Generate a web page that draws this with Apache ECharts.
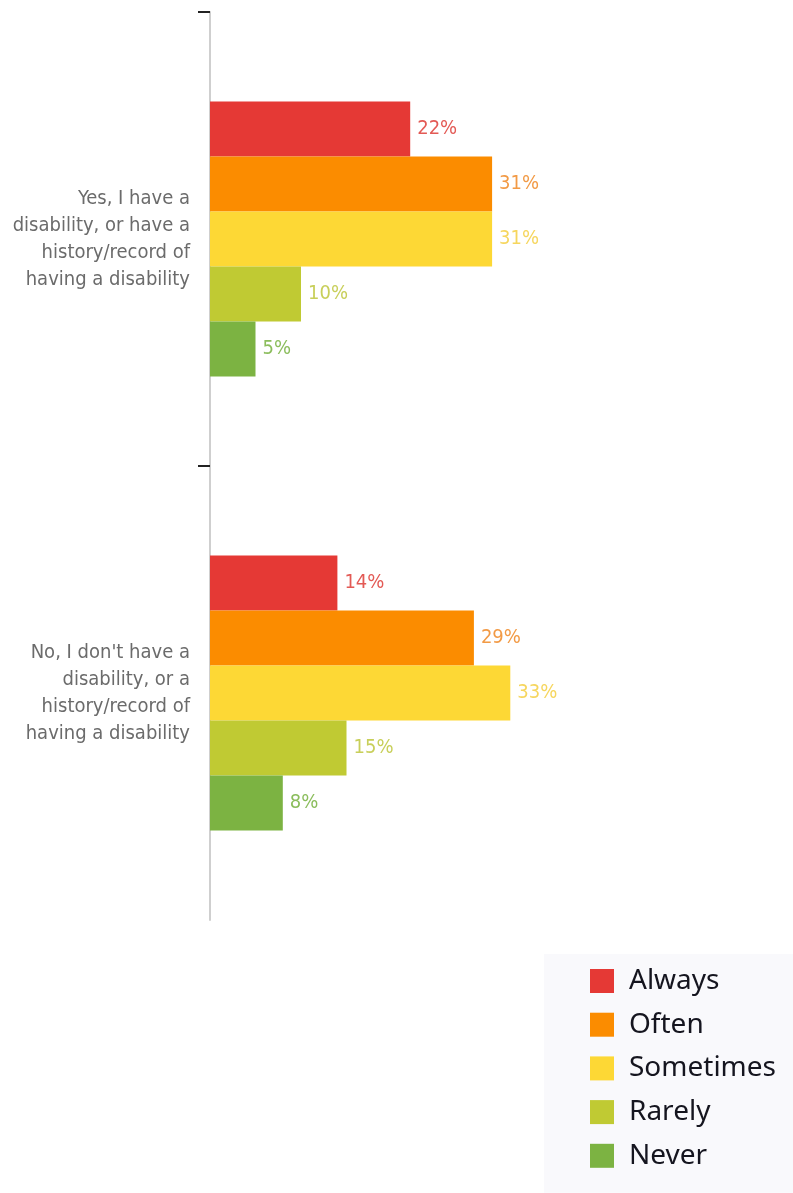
<!DOCTYPE html>
<html>
<head>
<meta charset="utf-8">
<script src="https://cdn.jsdelivr.net/npm/echarts@6/dist/echarts.min.js"></script>
<style>
html,body{margin:0;padding:0;background:#fff;}
#chart{width:793px;height:1193px;}
</style>
</head>
<body>
<div id="chart"></div>
<script>
const categories = [
  "Yes, I have a\ndisability, or have a\nhistory/record of\nhaving a disability",
  "No, I don't have a\ndisability, or a\nhistory/record of\nhaving a disability"
];
const seriesNames = ["Always", "Often", "Sometimes", "Rarely", "Never"];
const always = [22, 14];
const often = [31, 29];
const sometimes = [31, 33];
const rarely = [10, 15];
const never = [5, 8];
const tickIndices = [0, 1];

const barColors = ["#e53935", "#fb8c00", "#fdd835", "#c0ca33", "#7cb342"];
const labelColors = ["#e35a55", "#f29a45", "#f6d65e", "#c8cf5a", "#8bbd5c"];
const values = [always, often, sometimes, rarely, never];

const narrow = "'Liberation Sans Narrow', 'DejaVu Sans Condensed', 'Roboto Condensed', sans-serif";

const chart = echarts.init(document.getElementById('chart'));
chart.setOption({
  animation: false,
  backgroundColor: '#ffffff',
  grid: { left: 210, top: 12, width: 546, bottom: 273, containLabel: false },
  xAxis: {
    type: 'value', min: 0, max: 60,
    show: false
  },
  yAxis: [{
    type: 'category',
    data: categories,
    inverse: true,
    axisLine: { show: true, lineStyle: { color: '#cfcfcf', width: 2 } },
    axisTick: { show: false },
    axisLabel: {
      margin: 20, color: '#6b6b6b', fontSize: 20, lineHeight: 27,
      fontFamily: narrow, align: 'right'
    },
    splitLine: { show: false }
  }, {
    type: 'value',
    min: 0, max: categories.length,
    inverse: true,
    position: 'left',
    axisLine: { show: false },
    axisLabel: { show: false },
    splitLine: { show: false },
    axisTick: { show: true, length: 12, customValues: tickIndices, lineStyle: { color: '#222', width: 2 } }
  }],
  legend: {
    orient: 'vertical',
    left: 544, top: 954, height: 230,
    padding: [13, 17, 23, 46],
    backgroundColor: '#f9f9fc',
    itemWidth: 24, itemHeight: 24, itemGap: 15.7,
    icon: 'rect',
    textStyle: { fontSize: 28, color: '#15151f', fontFamily: "'Noto Sans', sans-serif", padding: [0,0,0,10] },
    data: seriesNames
  },
  series: seriesNames.map((name, i) => ({
    name: name,
    type: 'bar',
    data: values[i],
    barGap: '0%',
    barCategoryGap: '39.4%',
    itemStyle: { color: barColors[i] },
    label: {
      show: true, position: 'right', distance: 7,
      formatter: p => p.value + '%',
      color: labelColors[i], fontSize: 20, fontFamily: narrow
    }
  }))
});
</script>
</body>
</html>
